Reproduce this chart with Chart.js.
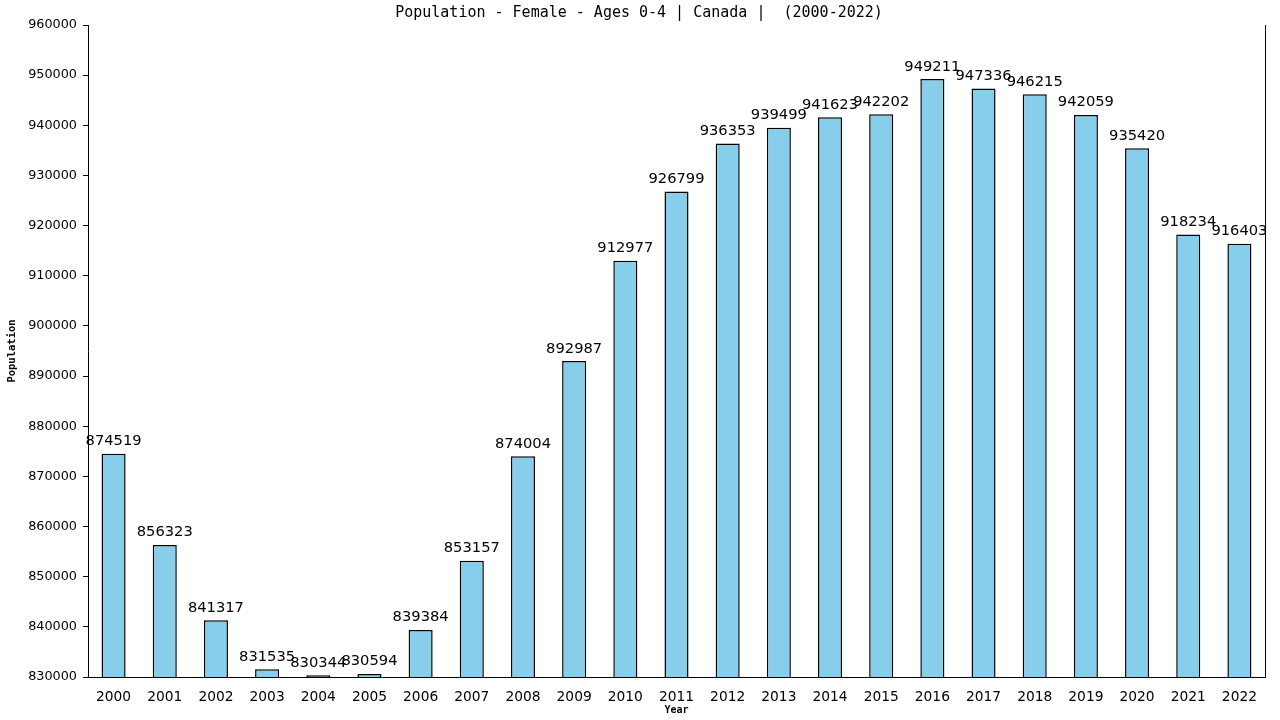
<!DOCTYPE html>
<html>
<head>
<meta charset="utf-8">
<script src="https://cdn.jsdelivr.net/npm/chart.js@4.4.1/dist/chart.umd.min.js"></script>
<style>
  html, body { margin: 0; padding: 0; background: #fff; }
  #myChart { display: block; }
</style>
</head>
<body>
<canvas id="myChart" width="1280" height="720"></canvas>
<script>
// Dados
const years = ['2000', '2001', '2002', '2003', '2004', '2005', '2006', '2007', '2008', '2009', '2010', '2011',
    '2012', '2013', '2014', '2015', '2016', '2017', '2018', '2019', '2020', '2021', '2022'];
const population = [874519, 856323, 841317, 831535, 830344, 830594, 839384, 853157, 874004, 892987, 912977, 926799,
    936353, 939499, 941623, 942202, 949211, 947336, 946215, 942059, 935420, 918234, 916403];
const yMin = 830000;
const yMax = 960000;
const yStep = 10000;
const chartTitle = 'Population - Female - Ages 0-4 | Canada |  (2000-2022)';

// Título, linha da direita e valores acima das barras
const extras = {
    id: 'extras',
    afterDraw(chart) {
        const ctx = chart.ctx;
        const area = chart.chartArea;
        ctx.save();
        ctx.fillStyle = '#000';
        ctx.font = '15px "DejaVu Sans Mono"';
        ctx.textAlign = 'center';
        ctx.textBaseline = 'middle';
        ctx.fillText(chartTitle, 639, 13);

        ctx.strokeStyle = '#000';
        ctx.lineWidth = 1;
        ctx.beginPath();
        ctx.moveTo(Math.round(area.right) + 0.5, area.top);
        ctx.lineTo(Math.round(area.right) + 0.5, area.bottom);
        ctx.stroke();

        ctx.font = '14.7px "DejaVu Sans"';
        ctx.textBaseline = 'bottom';
        chart.getDatasetMeta(0).data.forEach((bar, i) => {
            ctx.fillText(population[i], bar.x, bar.y - 5);
        });
        ctx.restore();
    }
};

const ctx = document.getElementById('myChart').getContext('2d');
const myChart = new Chart(ctx, {
    type: 'bar',
    data: {
        labels: years,
        datasets: [{
            label: 'Population',
            data: population,
            backgroundColor: '#87ceeb',
            borderColor: '#000',
            borderWidth: { top: 1.5, left: 1.5, right: 1.5, bottom: 0 },
            borderSkipped: false,
            categoryPercentage: 1,
            barPercentage: 0.47
        }]
    },
    options: {
        responsive: false,
        animation: false,
        layout: {
            padding: { top: 25, right: 15, bottom: 0, left: 0 }
        },
        scales: {
            x: {
                grid: { display: false },
                border: { display: true, color: '#000' },
                ticks: {
                    color: '#000',
                    font: { family: 'DejaVu Sans', size: 13.8 },
                    padding: 4,
                    maxRotation: 0
                },
                title: {
                    display: true,
                    text: 'Year',
                    color: '#000',
                    font: { family: 'DejaVu Sans Mono', size: 10, weight: 'bold' },
                    padding: { top: 2, bottom: 4 }
                },
                afterFit: s => { s.height = 43; }
            },
            y: {
                min: yMin,
                max: yMax,
                grid: {
                    display: true,
                    drawOnChartArea: false,
                    drawTicks: true,
                    tickLength: 5,
                    color: '#000'
                },
                border: { display: true, color: '#000' },
                ticks: {
                    stepSize: yStep,
                    color: '#000',
                    font: { family: 'DejaVu Sans', size: 12.8 },
                    padding: 6,
                    callback: v => v
                },
                title: {
                    display: true,
                    text: 'Population',
                    color: '#000',
                    font: { family: 'DejaVu Sans Mono', size: 10.5, weight: 'bold' },
                    padding: { top: 6, bottom: 2 }
                },
                afterFit: s => { s.width = 88; }
            }
        },
        plugins: {
            legend: { display: false },
            title: { display: false },
            tooltip: { enabled: false }
        }
    },
    plugins: [extras]
});
</script>
</body>
</html>
